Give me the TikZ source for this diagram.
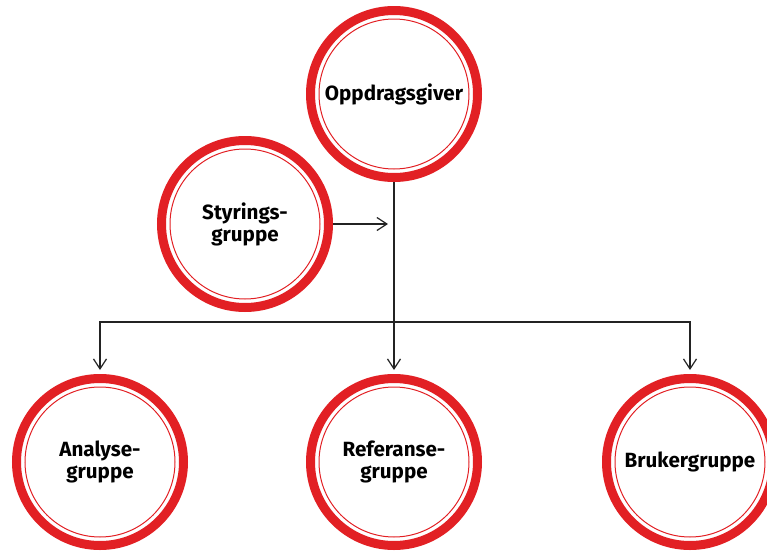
\documentclass[tikz,border=0pt]{standalone}
\usepackage{fontspec}
\setmainfont{Fira Sans}
\usetikzlibrary{arrows.meta}

\definecolor{ringred}{RGB}{226,32,36}
\definecolor{linegray}{RGB}{35,35,35}

\tikzset{
	pil/.tip={Straight Barb[length=5pt,width=6.5pt]},
	gruppe/.style={circle,draw=ringred,line width=4.5pt,minimum size=83.5pt,inner sep=0pt,
		align=center,font=\bfseries\fontsize{10.3}{11}\selectfont},
	innring/.style={draw=ringred,line width=0.5pt},
	link/.style={draw=linegray,line width=0.6pt}
}

\begin{document}
\begin{tikzpicture}[x=0.5pt,y=-0.5pt]

	\def\rin{37.5pt}

	\useasboundingbox (0,0) rectangle (767,552);

	\node[gruppe] (oppdrag) at (394,94) {Oppdragsgiver};
	\node[gruppe] (styring) at (245,224) {Styrings-\\gruppe};
	\node[gruppe] (analyse) at (100,462) {Analyse-\\gruppe};
	\node[gruppe] (referanse) at (394,462) {Referanse-\\gruppe};
	\node[gruppe] (bruker) at (690,462) {Brukergruppe};

	\foreach \n in {oppdrag,styring,analyse,referanse,bruker}
		\draw[innring] (\n.center) circle (\rin);

	\coordinate (fork) at (394,322);

	\draw[link,-pil,shorten >=2pt] (oppdrag) -- (referanse);
	\draw[link,-pil,shorten >=3pt] (styring) -- (styring -| oppdrag);
	\draw[link,pil-pil,shorten <=2pt,shorten >=2pt] (analyse) |- (fork) -| (bruker);
\end{tikzpicture}
\end{document}
